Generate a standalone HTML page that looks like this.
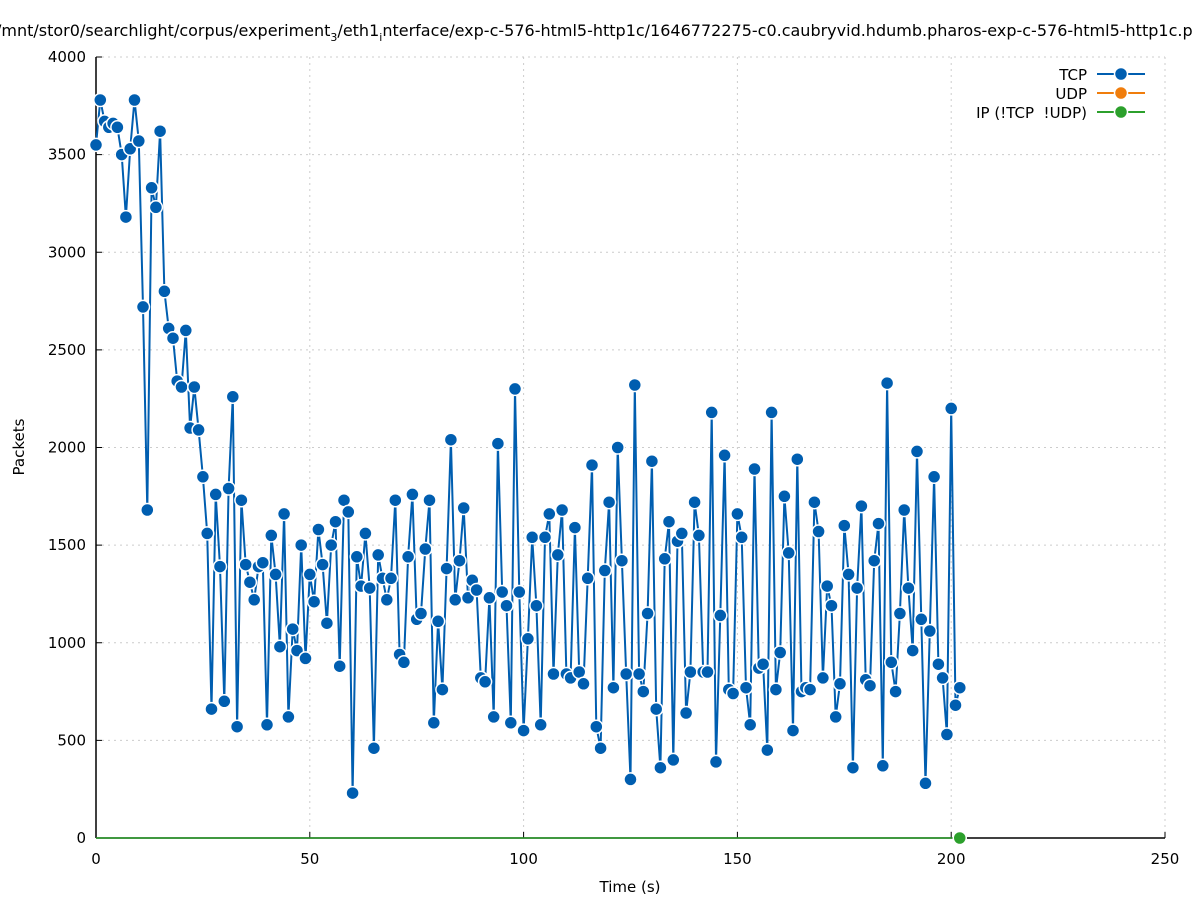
<!DOCTYPE html>
<html><head><meta charset="utf-8"><style>
body{margin:0;background:#fff;}
svg{display:block;font-family:"DejaVu Sans","Liberation Sans",sans-serif;}
</style></head><body>
<svg id="s" width="1197" height="900" xmlns="http://www.w3.org/2000/svg">
<rect width="1197" height="900" fill="#fff"/>
<text x="-4" y="36" font-size="16" fill="#000">/mnt/stor0/searchlight/corpus/experiment<tspan font-size="11" dy="5">3</tspan><tspan dy="-5">/eth1</tspan><tspan font-size="11" dy="5">i</tspan><tspan dy="-5">nterface/exp-c-576-html5-http1c/1646772275-c0.caubryvid.hdumb.pharos-exp-c-576-html5-http1c.p</tspan></text>
<g id="grid"></g>
<g id="axes"></g>
<g id="data"></g>
<text x="630" y="892" font-size="15" text-anchor="middle">Time (s)</text>
<text x="24" y="447" font-size="15" text-anchor="middle" transform="rotate(-90 24 447)">Packets</text>
<g font-size="15" text-anchor="end">
<text x="1087" y="80">TCP</text>
<text x="1087" y="99">UDP</text>
<text x="1087" y="118" xml:space="preserve">IP (!TCP  !UDP)</text>
</g>
<line x1="1097" y1="74" x2="1145" y2="74" stroke="#005eb0" stroke-width="2"/>
<circle cx="1121" cy="74" r="6.5" fill="#005eb0" stroke="#fff" stroke-width="1.5"/>
<line x1="1097" y1="93" x2="1145" y2="93" stroke="#f07d0c" stroke-width="2"/>
<circle cx="1121" cy="93" r="6.5" fill="#f07d0c" stroke="#fff" stroke-width="1.5"/>
<line x1="1097" y1="112" x2="1145" y2="112" stroke="#2ca02c" stroke-width="2"/>
<circle cx="1121" cy="112" r="6.5" fill="#2ca02c" stroke="#fff" stroke-width="1.5"/>
</svg>
<script>
var v=[3550,3780,3670,3640,3660,3640,3500,3180,3530,3780,3570,2720,1680,3330,3230,3620,2800,2610,2560,2340,2310,2600,2100,2310,2090,1850,1560,660,1760,1390,700,1790,2260,570,1730,1400,1310,1220,1390,1410,580,1550,1350,980,1660,620,1070,960,1500,920,1350,1210,1580,1400,1100,1500,1620,880,1730,1670,230,1440,1290,1560,1280,460,1450,1330,1220,1330,1730,940,900,1440,1760,1120,1150,1480,1730,590,1110,760,1380,2040,1220,1420,1690,1230,1320,1270,820,800,1230,620,2020,1260,1190,590,2300,1260,550,1020,1540,1190,580,1540,1660,840,1450,1680,840,820,1590,850,790,1330,1910,570,460,1370,1720,770,2000,1420,840,300,2320,840,750,1150,1930,660,360,1430,1620,400,1520,1560,640,850,1720,1550,850,850,2180,390,1140,1960,760,740,1660,1540,770,580,1890,870,890,450,2180,760,950,1750,1460,550,1940,750,770,760,1720,1570,820,1290,1190,620,790,1600,1350,360,1280,1700,810,780,1420,1610,370,2330,900,750,1150,1680,1280,960,1980,1120,280,1060,1850,890,820,530,2200,680,770];
var L=96,R=1165,T=57,B=838;
function X(t){return L+t*(R-L)/250}
function Y(p){return B-p*(B-T)/4000}
var g="",a="";
for(var i=0;i<=8;i++){var y=Y(i*500);
 if(i>0)g+='<line x1="'+L+'" y1="'+y+'" x2="'+R+'" y2="'+y+'" stroke="#ccc" stroke-dasharray="2,4"/>';
 a+='<line x1="'+L+'" y1="'+y+'" x2="'+(L+6)+'" y2="'+y+'" stroke="#000"/>';
 a+='<text x="86" y="'+(y+5)+'" font-size="15" text-anchor="end">'+(i*500)+'</text>';}
for(var i=0;i<=5;i++){var x=X(i*50);
 if(i>0)g+='<line x1="'+x+'" y1="'+T+'" x2="'+x+'" y2="'+B+'" stroke="#ccc" stroke-dasharray="2,4"/>';
 a+='<line x1="'+x+'" y1="'+B+'" x2="'+x+'" y2="'+(B-6)+'" stroke="#000"/>';
 a+='<text x="'+x+'" y="864" font-size="15" text-anchor="middle">'+(i*50)+'</text>';}
a+='<line x1="'+L+'" y1="'+T+'" x2="'+L+'" y2="'+B+'" stroke="#000" stroke-width="1.5"/>';
a+='<line x1="'+L+'" y1="'+B+'" x2="'+R+'" y2="'+B+'" stroke="#000" stroke-width="1.5"/>';
document.getElementById("grid").innerHTML=g;
document.getElementById("axes").innerHTML=a;
var d="",pts=[];
for(var i=0;i<v.length;i++)pts.push(X(i).toFixed(1)+","+Y(v[i]).toFixed(1));
d+='<polyline points="'+X(0)+','+B+' '+X(202)+','+B+'" fill="none" stroke="#2ca02c" stroke-width="1.5"/>';
d+='<polyline points="'+pts.join(" ")+'" fill="none" stroke="#005eb0" stroke-width="2"/>';
for(var i=0;i<v.length;i++)d+='<circle cx="'+X(i).toFixed(1)+'" cy="'+Y(v[i]).toFixed(1)+'" r="6.5" fill="#005eb0" stroke="#fff" stroke-width="1.5"/>';
d+='<circle cx="'+X(202)+'" cy="'+B+'" r="6.5" fill="#2ca02c" stroke="#fff" stroke-width="1.5"/>';
document.getElementById("data").innerHTML=d;
</script>
</body></html>
